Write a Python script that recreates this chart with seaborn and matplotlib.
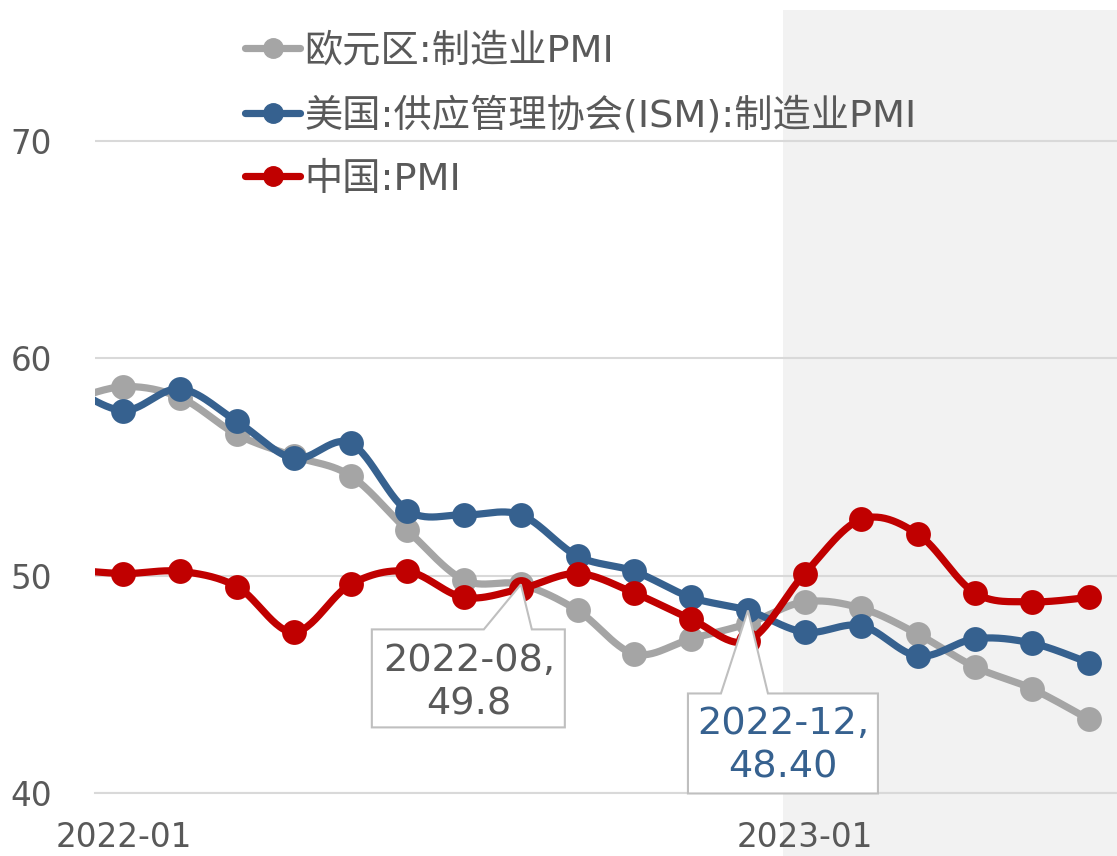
import matplotlib
matplotlib.use("Agg")
import matplotlib.pyplot as plt
import matplotlib.transforms as mtransforms
from matplotlib.lines import Line2D
from matplotlib.patches import Polygon, Rectangle
import numpy as np
import pandas as pd
import seaborn as sns

# 月度数据（2021-12 仅用于让曲线从左边界延伸进来）
months = ["2021-12", "2022-01", "2022-02", "2022-03", "2022-04", "2022-05", "2022-06",
          "2022-07", "2022-08", "2022-09", "2022-10", "2022-11", "2022-12",
          "2023-01", "2023-02", "2023-03", "2023-04", "2023-05", "2023-06"]
eurozone_pmi = [58.0, 58.7, 58.2, 56.5, 55.5, 54.6, 52.1, 49.8, 49.6, 48.4, 46.4, 47.1, 47.8,
                48.8, 48.5, 47.3, 45.8, 44.8, 43.4]
us_ism_pmi = [58.8, 57.6, 58.6, 57.1, 55.4, 56.1, 53.0, 52.8, 52.8, 50.9, 50.2, 49.0, 48.4,
              47.4, 47.7, 46.3, 47.1, 46.9, 46.0]
china_pmi = [50.3, 50.1, 50.2, 49.5, 47.4, 49.6, 50.2, 49.0, 49.4, 50.1, 49.2, 48.0, 47.0,
             50.1, 52.6, 51.9, 49.2, 48.8, 49.0]

series_names = ["欧元区:制造业PMI", "美国:供应管理协会(ISM):制造业PMI", "中国:PMI"]
series_values = [eurozone_pmi, us_ism_pmi, china_pmi]
series_colors = ["#A5A5A5", "#36618F", "#C00000"]

x_tick_labels = ["2022-01", "2023-01"]
y_ticks = [40, 50, 60, 70]

TEXT = "#595959"
GRID = "#D9D9D9"
SHADE = "#F2F2F2"


def month_pos(m):
    # 每月等宽（类似 Excel 月度日期轴），数据点落在月中
    y, mo = map(int, m.split("-"))
    return (y - 2022) * 12 + (mo - 1) + 0.5


def smooth(xs, ys, n=30):
    # Catmull-Rom 式贝塞尔平滑（模仿 Excel 平滑线）
    xs = np.asarray(xs, float)
    ys = np.asarray(ys, float)
    px = np.concatenate([[xs[0]], xs, [xs[-1]]])
    py = np.concatenate([[ys[0]], ys, [ys[-1]]])
    out_x, out_y = [], []
    t = np.linspace(0, 1, n)
    for i in range(1, len(px) - 2):
        p0 = np.array([px[i], py[i]])
        p1 = np.array([px[i + 1], py[i + 1]])
        c1 = p0 + (p1 - np.array([px[i - 1], py[i - 1]])) / 6
        c2 = p1 - (np.array([px[i + 2], py[i + 2]]) - p0) / 6
        b = ((1 - t) ** 3)[:, None] * p0 + (3 * (1 - t) ** 2 * t)[:, None] * c1 \
            + (3 * (1 - t) * t ** 2)[:, None] * c2 + (t ** 3)[:, None] * p1
        out_x.extend(b[:, 0])
        out_y.extend(b[:, 1])
    return out_x, out_y


sns.set_theme(style="white")
plt.rcParams["font.family"] = ["DejaVu Sans", "Noto Sans CJK SC"]
plt.rcParams["axes.unicode_minus"] = False

fig = plt.figure(figsize=(11.17, 8.56), dpi=100)
ax = fig.add_axes([95 / 1117, 63 / 856, 1022 / 1117, 793 / 856])

xpos = [month_pos(m) for m in months]

for name, vals, color in zip(series_names, series_values, series_colors):
    sx, sy = smooth(xpos, vals)
    line_df = pd.DataFrame({"x": sx, "y": sy})
    sns.lineplot(data=line_df, x="x", y="y", color=color, lw=5.2, sort=False,
                 estimator=None, ax=ax, zorder=3, solid_capstyle="round")
    pt_df = pd.DataFrame({"x": xpos, "y": vals})
    sns.scatterplot(data=pt_df, x="x", y="y", color=color, s=320, linewidth=0,
                    ax=ax, zorder=3)

ax.set_xlim(0, 18)
ax.set_ylim(40, 40 + 793 / 21.73)
ax.set_xlabel("")
ax.set_ylabel("")

# 2023 年以后的灰色背景
shade_tr = mtransforms.blended_transform_factory(ax.transData, fig.transFigure)
ax.add_patch(Rectangle((12.12, 0), 18 - 12.12, 1 - 10 / 856, transform=shade_tr,
                       facecolor=SHADE, edgecolor="none", zorder=0.1, clip_on=False))

ax.set_axisbelow(True)
ax.set_yticks(y_ticks)
ax.set_yticklabels([str(v) for v in y_ticks])
ax.yaxis.grid(True, color=GRID, lw=1.5)
ax.xaxis.grid(False)
ax.tick_params(axis="y", length=0, pad=31, labelsize=23.5, labelcolor=TEXT)

ax.set_xticks([0, 12])
ax.set_xticklabels(["", ""])
ax.set_xticks([0.5, 12.5], minor=True)
ax.set_xticklabels(x_tick_labels, minor=True)
ax.tick_params(axis="x", which="major", length=8, width=1.5, color=GRID, direction="out")
ax.tick_params(axis="x", which="minor", length=0, pad=20, labelsize=23.5, labelcolor=TEXT)

for side in ["left", "right", "top"]:
    ax.spines[side].set_visible(False)
ax.spines["bottom"].set_color(GRID)
ax.spines["bottom"].set_linewidth(1.5)


def callout(ax, month, value, text, color, box, base, text_off):
    # box: (左, 右, 上, 下) 相对指向点的像素偏移；base: 指针底边左右
    left, right, top, bottom = box
    verts = np.array([(0, 0), (base[1], -top), (right, -top), (right, -bottom),
                      (left, -bottom), (left, -top), (base[0], -top), (0, 0)]) / 100.0
    tr = fig.dpi_scale_trans + mtransforms.ScaledTranslation(month_pos(month), value, ax.transData)
    ax.add_patch(Polygon(verts, closed=True, transform=tr, facecolor="white",
                         edgecolor="#BFBFBF", lw=1.5, zorder=5, clip_on=False))
    ttr = mtransforms.offset_copy(ax.transData, fig=fig, x=text_off[0], y=text_off[1], units="dots")
    ax.text(month_pos(month), value, text, transform=ttr, ha="center", va="center",
            fontsize=27.5, color=color, zorder=6, linespacing=1.27)


callout(ax, "2022-08", eurozone_pmi[months.index("2022-08")], "2022-08,\n49.8", TEXT,
        (-149, 44, 45, 143), (-37, 11), (-52, -98))
callout(ax, "2022-12", us_ism_pmi[months.index("2022-12")], "2022-12,\n48.40", series_colors[1],
        (-60, 130, 83, 183), (-27, 20), (35, -135))

handles = [Line2D([], [], color=c, lw=5.2, marker="o", markersize=14, solid_capstyle="round")
           for c in series_colors]
fig.legend(handles, series_names, loc="upper left", bbox_to_anchor=(245 / 1117, 1 - 33 / 856),
           frameon=False, fontsize=27.5, labelcolor=TEXT, handlelength=1.45, handletextpad=0.1,
           labelspacing=0.72, borderpad=0, borderaxespad=0)

fig.savefig("out.png", dpi=100)
